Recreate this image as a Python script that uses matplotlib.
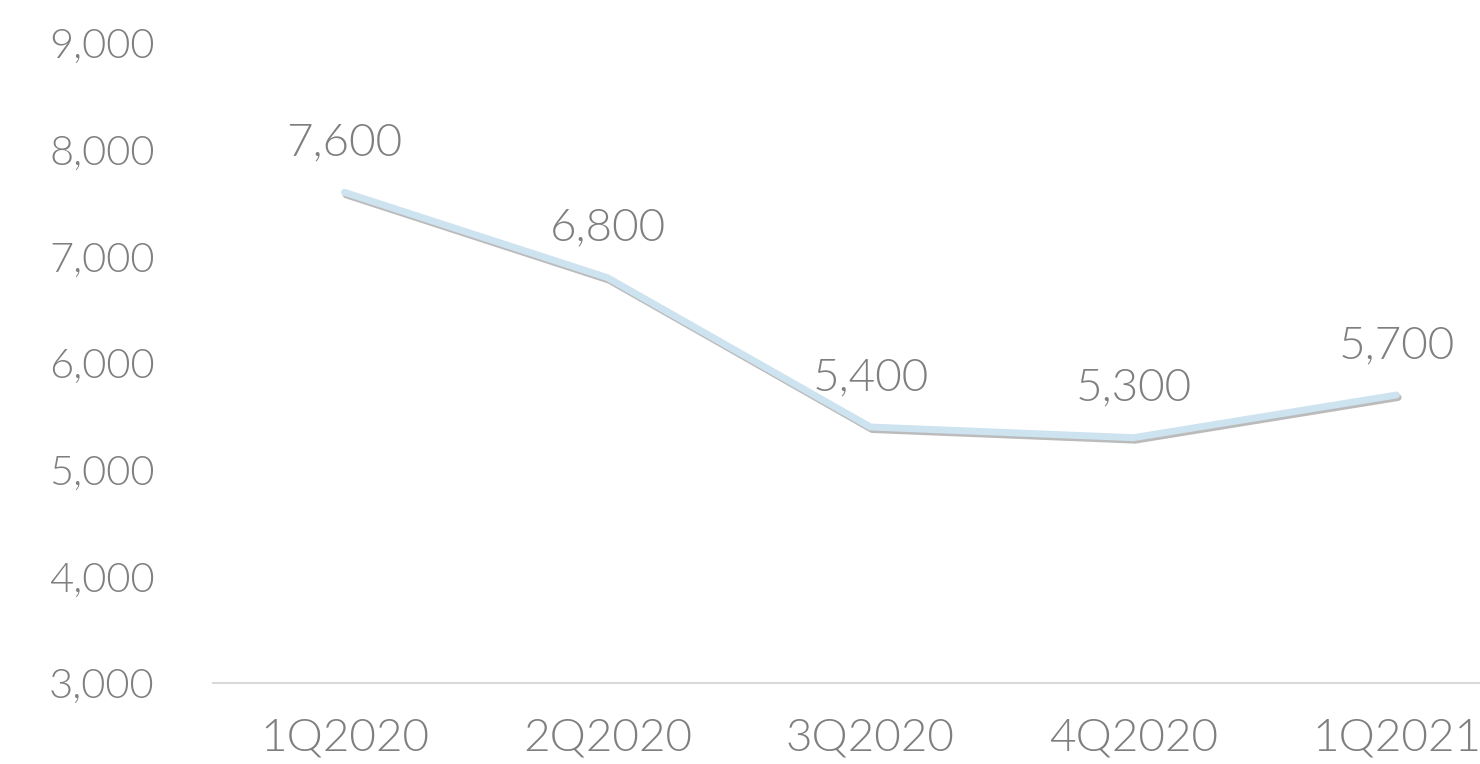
import matplotlib.pyplot as plt
import matplotlib.patheffects as pe
from matplotlib.ticker import FuncFormatter

# Chart data
quarters = ['1Q2020', '2Q2020', '3Q2020', '4Q2020', '1Q2021']
values = [7600, 6800, 5400, 5300, 5700]
y_ticks = [3000, 4000, 5000, 6000, 7000, 8000, 9000]

text_color = '#7f7f7f'
text_weight = 350  # picks Lato-Light
plt.rcParams['font.family'] = ['Lato', 'DejaVu Sans']

fig = plt.figure(figsize=(14.8, 7.64), dpi=100)
ax = fig.add_axes([0.1439, 0.106, 0.8885, 0.8377])

x = list(range(len(quarters)))
ax.plot(x, values, color='#cde3ef', linewidth=5, solid_capstyle='round',
        solid_joinstyle='round',
        path_effects=[pe.SimpleLineShadow(offset=(1.2, -1.8), shadow_color='#555555', alpha=0.4),
                      pe.Normal()])

# Data labels above each point
for xi, v in zip(x, values):
    ax.annotate(f'{v:,}', (xi, v), xytext=(0, 21), textcoords='offset points',
                ha='center', va='bottom', fontsize=33, fontweight=text_weight, color=text_color)

ax.set_xlim(-0.5, len(quarters) - 0.5)
ax.set_ylim(3000, 9000)
ax.set_xticks(x)
ax.set_xticklabels(quarters)
ax.set_yticks(y_ticks)
ax.yaxis.set_major_formatter(FuncFormatter(lambda v, p: f'{int(v):,}'))

for s in ['top', 'right', 'left']:
    ax.spines[s].set_visible(False)
ax.spines['bottom'].set_color('#d9d9d9')
ax.spines['bottom'].set_linewidth(1.5)

ax.tick_params(axis='both', length=0, labelcolor=text_color)
ax.tick_params(axis='y', pad=42, labelsize=30)
ax.tick_params(axis='x', pad=25, labelsize=33)
for lab in ax.get_xticklabels() + ax.get_yticklabels():
    lab.set_fontweight(text_weight)

fig.savefig('out.png', dpi=100)
